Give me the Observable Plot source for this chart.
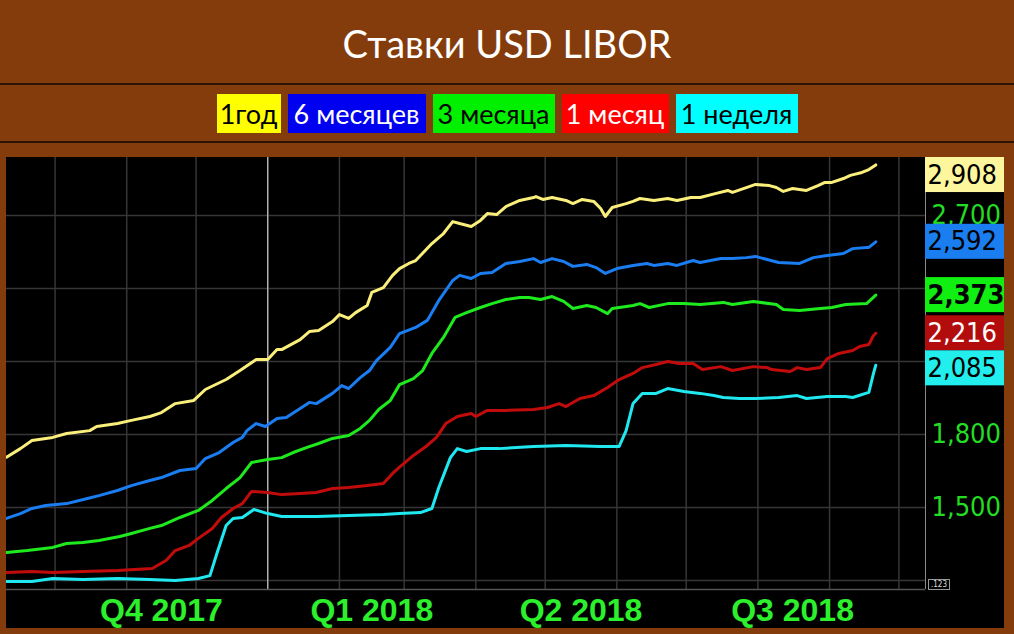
<!DOCTYPE html>
<html><head><meta charset="utf-8">
<script src="https://cdn.jsdelivr.net/npm/d3@7"></script>
<script src="https://cdn.jsdelivr.net/npm/@observablehq/plot@0.6"></script>
<style>
html,body{margin:0;padding:0;}
body{width:1014px;height:634px;background:#843c0c;position:relative;overflow:hidden;font-family:Lato,sans-serif;}
#title{position:absolute;left:0;top:0;width:1014px;height:84px;line-height:86px;text-align:center;color:#fff;font-size:38px;}
.sep{position:absolute;left:0;width:1014px;height:2px;background:#2a1406;}
#legend{position:absolute;top:94px;left:0;width:1014px;display:flex;justify-content:center;gap:7px;}
#legend span{display:block;height:39px;line-height:39px;font-size:27px;text-align:center;white-space:nowrap;overflow:hidden;}
#chart{position:absolute;left:6px;top:157px;width:998px;height:471px;background:#000;overflow:hidden;}
#chart svg{display:block;}
#badge123{position:absolute;left:928px;top:579px;width:20px;height:9px;border:1px solid #999;color:#ddd;font:8px "DejaVu Sans Condensed",sans-serif;line-height:9px;text-align:center;background:#000;}
</style></head>
<body>
<div id="title">Ставки USD LIBOR</div>
<div class="sep" style="top:83px"></div>
<div id="legend"></div>
<div class="sep" style="top:141px"></div>
<div id="chart"></div>
<div id="badge123">.123</div>
<script>
// ---- data ----
const legendLabels = ["1год", "6 месяцев", "3 месяца", "1 месяц", "1 неделя"];
const quarterLabels = ["Q4 2017", "Q1 2018", "Q2 2018", "Q3 2018"];
const quarterBounds = ["2017-10-01", "2018-01-01", "2018-04-01", "2018-07-01", "2018-10-01"];
const yGrid = [1.2, 1.5, 1.8, 2.1, 2.4, 2.7];
const yTickLabels = [1.5, 1.8, 2.1, 2.4, 2.7];

const rate1Y = [
["2017-09-10",1.707],["2017-09-16",1.742],["2017-09-21",1.775],["2017-09-30",1.788],["2017-10-06",1.804],
["2017-10-16",1.816],["2017-10-19",1.833],["2017-10-28",1.845],["2017-11-03",1.858],["2017-11-11",1.874],
["2017-11-16",1.890],["2017-11-22",1.927],["2017-11-30",1.940],["2017-12-05",1.985],["2017-12-14",2.026],
["2017-12-20",2.063],["2017-12-27",2.108],["2018-01-01",2.108],["2018-01-05",2.149],["2018-01-07",2.149],
["2018-01-15",2.190],["2018-01-19",2.223],["2018-01-23",2.227],["2018-01-29",2.264],["2018-02-01",2.293],
["2018-02-05",2.277],["2018-02-08",2.301],["2018-02-13",2.330],["2018-02-15",2.384],["2018-02-20",2.404],
["2018-02-24",2.454],["2018-02-27",2.482],["2018-03-03",2.503],["2018-03-06",2.515],["2018-03-13",2.585],
["2018-03-18",2.626],["2018-03-22",2.675],["2018-03-25",2.667],["2018-03-30",2.655],["2018-04-03",2.680],
["2018-04-06",2.708],["2018-04-10",2.704],["2018-04-14",2.737],["2018-04-20",2.762],["2018-04-26",2.774],
["2018-04-27",2.778],["2018-04-30",2.766],["2018-05-04",2.774],["2018-05-10",2.762],["2018-05-13",2.749],
["2018-05-17",2.766],["2018-05-22",2.758],["2018-05-25",2.729],["2018-05-27",2.696],["2018-05-30",2.733],
["2018-06-05",2.749],["2018-06-08",2.758],["2018-06-11",2.770],["2018-06-17",2.762],["2018-06-23",2.770],
["2018-06-27",2.762],["2018-07-03",2.774],["2018-07-07",2.774],["2018-07-14",2.791],["2018-07-19",2.803],
["2018-07-21",2.795],["2018-07-27",2.815],["2018-07-31",2.828],["2018-08-06",2.823],["2018-08-09",2.815],
["2018-08-12",2.799],["2018-08-16",2.811],["2018-08-22",2.803],["2018-08-27",2.823],["2018-08-30",2.836],
["2018-09-02",2.836],["2018-09-07",2.852],["2018-09-10",2.865],["2018-09-15",2.877],["2018-09-18",2.889],
["2018-09-21",2.908]];

const rate6M = [
["2017-09-10",1.455],["2017-09-16",1.475],["2017-09-21",1.496],["2017-09-27",1.508],["2017-10-06",1.516],
["2017-10-15",1.537],["2017-10-20",1.549],["2017-10-28",1.570],["2017-11-03",1.590],["2017-11-11",1.611],
["2017-11-16",1.623],["2017-11-24",1.652],["2017-12-01",1.660],["2017-12-05",1.701],["2017-12-11",1.726],
["2017-12-17",1.767],["2017-12-21",1.788],["2017-12-23",1.816],["2017-12-27",1.845],["2017-12-31",1.833],
["2018-01-05",1.866],["2018-01-09",1.870],["2018-01-15",1.907],["2018-01-19",1.932],["2018-01-22",1.927],
["2018-01-29",1.969],["2018-02-02",2.001],["2018-02-05",1.989],["2018-02-10",2.034],["2018-02-14",2.063],
["2018-02-17",2.104],["2018-02-23",2.158],["2018-02-27",2.215],["2018-03-06",2.240],["2018-03-11",2.269],
["2018-03-16",2.351],["2018-03-22",2.433],["2018-03-25",2.454],["2018-03-30",2.441],["2018-04-03",2.462],
["2018-04-08",2.466],["2018-04-14",2.503],["2018-04-20",2.511],["2018-04-26",2.523],["2018-04-29",2.507],
["2018-05-04",2.523],["2018-05-09",2.511],["2018-05-13",2.491],["2018-05-19",2.499],["2018-05-23",2.486],
["2018-05-27",2.462],["2018-06-01",2.482],["2018-06-08",2.495],["2018-06-14",2.503],["2018-06-17",2.495],
["2018-06-23",2.503],["2018-06-27",2.495],["2018-07-04",2.515],["2018-07-07",2.507],["2018-07-16",2.523],
["2018-07-21",2.523],["2018-07-27",2.527],["2018-07-31",2.532],["2018-08-05",2.519],["2018-08-10",2.507],
["2018-08-19",2.503],["2018-08-25",2.527],["2018-08-31",2.536],["2018-09-07",2.544],["2018-09-11",2.564],
["2018-09-17",2.569],["2018-09-18",2.569],["2018-09-21",2.592]];

const rate3M = [
["2017-09-10",1.315],["2017-09-19",1.323],["2017-09-30",1.336],["2017-10-06",1.352],["2017-10-13",1.356],
["2017-10-20",1.364],["2017-10-29",1.381],["2017-11-03",1.393],["2017-11-11",1.414],["2017-11-16",1.426],
["2017-11-24",1.459],["2017-12-02",1.488],["2017-12-08",1.529],["2017-12-14",1.578],["2017-12-20",1.623],
["2017-12-25",1.685],["2018-01-01",1.697],["2018-01-07",1.705],["2018-01-12",1.726],["2018-01-18",1.747],
["2018-01-23",1.763],["2018-01-29",1.784],["2018-02-05",1.796],["2018-02-10",1.825],["2018-02-14",1.858],
["2018-02-18",1.903],["2018-02-23",1.940],["2018-02-27",2.005],["2018-03-05",2.030],["2018-03-09",2.063],
["2018-03-13",2.133],["2018-03-18",2.199],["2018-03-23",2.281],["2018-03-28",2.301],["2018-04-03",2.322],
["2018-04-08",2.338],["2018-04-14",2.355],["2018-04-20",2.363],["2018-04-24",2.363],["2018-04-29",2.355],
["2018-05-04",2.367],["2018-05-09",2.347],["2018-05-13",2.318],["2018-05-19",2.330],["2018-05-23",2.322],
["2018-05-28",2.297],["2018-05-30",2.318],["2018-06-08",2.330],["2018-06-11",2.338],["2018-06-15",2.322],
["2018-06-23",2.338],["2018-06-30",2.338],["2018-07-07",2.334],["2018-07-17",2.343],["2018-07-21",2.334],
["2018-07-30",2.347],["2018-08-09",2.334],["2018-08-12",2.314],["2018-08-19",2.310],["2018-08-28",2.318],
["2018-09-02",2.322],["2018-09-08",2.334],["2018-09-17",2.338],["2018-09-21",2.373]];

const rate1M = [
["2017-09-10",1.233],["2017-09-21",1.237],["2017-09-30",1.233],["2017-10-13",1.237],["2017-10-28",1.241],
["2017-11-12",1.249],["2017-11-18",1.282],["2017-11-22",1.323],["2017-11-28",1.344],["2017-12-02",1.373],
["2017-12-08",1.414],["2017-12-12",1.459],["2017-12-17",1.496],["2017-12-21",1.516],["2017-12-25",1.566],
["2018-01-01",1.562],["2018-01-07",1.553],["2018-01-15",1.558],["2018-01-22",1.562],["2018-01-29",1.578],
["2018-02-05",1.582],["2018-02-13",1.590],["2018-02-20",1.599],["2018-02-24",1.640],["2018-02-27",1.666],
["2018-03-05",1.714],["2018-03-11",1.755],["2018-03-15",1.788],["2018-03-19",1.845],["2018-03-24",1.874],
["2018-03-30",1.886],["2018-04-01",1.874],["2018-04-06",1.899],["2018-04-14",1.899],["2018-04-26",1.903],
["2018-05-02",1.911],["2018-05-07",1.927],["2018-05-10",1.915],["2018-05-16",1.948],["2018-05-22",1.960],
["2018-05-28",1.993],["2018-06-02",2.026],["2018-06-08",2.051],["2018-06-12",2.075],["2018-06-18",2.088],
["2018-06-23",2.100],["2018-06-28",2.092],["2018-07-04",2.092],["2018-07-08",2.067],["2018-07-16",2.079],
["2018-07-21",2.063],["2018-07-30",2.079],["2018-08-05",2.075],["2018-08-07",2.067],["2018-08-15",2.059],
["2018-08-18",2.075],["2018-08-22",2.067],["2018-08-28",2.075],["2018-08-31",2.112],["2018-09-05",2.133],
["2018-09-11",2.145],["2018-09-14",2.162],["2018-09-18",2.170],["2018-09-20",2.207],["2018-09-21",2.216]];

const rate1W = [
["2017-09-10",1.196],["2017-09-21",1.196],["2017-09-30",1.208],["2017-10-13",1.204],["2017-10-28",1.208],
["2017-11-11",1.204],["2017-11-22",1.200],["2017-12-02",1.208],["2017-12-07",1.220],["2017-12-10",1.311],
["2017-12-14",1.426],["2017-12-17",1.455],["2017-12-21",1.459],["2017-12-26",1.492],["2018-01-01",1.475],
["2018-01-07",1.463],["2018-01-22",1.463],["2018-02-05",1.467],["2018-02-20",1.471],["2018-02-27",1.475],
["2018-03-08",1.479],["2018-03-13",1.496],["2018-03-16",1.582],["2018-03-21",1.705],["2018-03-24",1.742],
["2018-03-28",1.730],["2018-04-03",1.742],["2018-04-11",1.742],["2018-04-26",1.751],["2018-05-10",1.755],
["2018-05-25",1.751],["2018-06-02",1.751],["2018-06-05",1.816],["2018-06-08",1.927],["2018-06-12",1.969],
["2018-06-18",1.969],["2018-06-23",1.989],["2018-06-30",1.977],["2018-07-07",1.969],["2018-07-13",1.960],
["2018-07-17",1.952],["2018-07-24",1.948],["2018-07-31",1.948],["2018-08-10",1.952],["2018-08-18",1.960],
["2018-08-22",1.948],["2018-08-31",1.956],["2018-09-08",1.956],["2018-09-11",1.952],["2018-09-18",1.973],
["2018-09-20",2.051],["2018-09-21",2.085]];

// ---- styling ----
const legendBg = ["#ffff00", "#0000f0", "#00f000", "#ff0000", "#00ffff"];
const legendFg = ["#000", "#fff", "#000", "#fff", "#000"];
const legendW = [64, 138, 122, 107, 122];
const lineColors = ["#fbef7c", "#1a7ef2", "#1eea1e", "#c20c0c", "#20e8f0"];
const badgeBg = ["#fdf69c", "#1a7ef0", "#11ee11", "#b30c0c", "#22eeee"];
const badgeFg = ["#000", "#000", "#000", "#fff", "#000"];
const badgeBold = [false, false, true, false, false];
const allSeries = [rate1Y, rate6M, rate3M, rate1M, rate1W];

const lg = document.getElementById("legend");
legendLabels.forEach((t, i) => {
  const s = document.createElement("span");
  s.textContent = t;
  s.style.background = legendBg[i];
  s.style.color = legendFg[i];
  s.style.width = legendW[i] + "px";
  lg.appendChild(s);
});

const xDomain = [new Date("2017-09-10T00:00Z"), new Date("2018-10-12T12:00Z")];
const yDomain = [1.163, 2.9385];
const fmt = v => v.toFixed(3).replace(".", ",");
const rows = arr => arr.map(([d, v]) => ({date: new Date(d + "T00:00Z"), value: v}));
const monthTicks = d3.utcMonth.range(new Date("2017-10-01T00:00Z"), xDomain[1]);
const yearMark = new Date("2018-01-01T00:00Z");
const qb = quarterBounds.map(d => new Date(d + "T00:00Z"));
const quarters = quarterLabels.map((l, i) => ({label: l, date: new Date((+qb[i] + +qb[i + 1]) / 2)}));

// badges: last value of each series, nudged to avoid overlap
const h = 0.072;
const badges = allSeries.map((s, i) => ({value: s[s.length - 1][1], bg: badgeBg[i], fg: badgeFg[i], bold: badgeBold[i]}))
  .sort((a, b) => b.value - a.value);
let prev = yDomain[1] + h;
badges.forEach(b => { b.pos = Math.min(b.value, prev - 2 * h); prev = b.pos; });
// tick labels hidden behind a badge are not drawn (as in the reference)
const visibleTicks = yTickLabels.filter(t => !badges.some(b => Math.abs(t - b.pos) < h));
const xFar = d3.utcDay.offset(xDomain[1], 80);
const numFont = "'DejaVu Sans Condensed', 'DejaVu Sans', sans-serif";

const chart = Plot.plot({
  width: 998, height: 471,
  marginLeft: 0, marginRight: 79, marginTop: 0, marginBottom: 39,
  style: {background: "#000", overflow: "hidden"},
  x: {type: "utc", domain: xDomain, axis: null},
  y: {domain: yDomain, axis: null},
  color: {type: "identity"},
  marks: [
    Plot.ruleY(yGrid, {stroke: "#363636", strokeWidth: 1.5}),
    Plot.ruleX(monthTicks, {stroke: "#363636", strokeWidth: 1.5}),
    Plot.ruleX([yearMark], {stroke: "#c8c8c8", strokeWidth: 1.2}),
    Plot.ruleY([yDomain[0]], {stroke: "#555", strokeWidth: 1.5}),
    Plot.ruleX([xDomain[1]], {stroke: "#8a8a8a", strokeWidth: 1}),
    ...allSeries.map((s, i) => Plot.line(rows(s), {x: "date", y: "value", stroke: lineColors[i], strokeWidth: 3})),
    Plot.text(visibleTicks, {x: () => xDomain[1], y: d => d, text: fmt, dx: 6, textAnchor: "start",
      fill: "#22dd22", fontSize: 27, fontFamily: numFont}),
    Plot.rect(badges, {x1: () => xDomain[1], x2: () => xFar, y1: d => d.pos - h, y2: d => d.pos + h, fill: "bg"}),
    Plot.text(badges.filter(b => !b.bold), {x: () => xDomain[1], y: "pos", text: d => fmt(d.value), dx: 2,
      textAnchor: "start", fill: "fg", fontSize: 27, fontFamily: numFont}),
    Plot.text(badges.filter(b => b.bold), {x: () => xDomain[1], y: "pos", text: d => fmt(d.value), dx: 2,
      textAnchor: "start", fill: "fg", fontSize: 27, fontWeight: "bold", fontFamily: numFont}),
    Plot.text(quarters, {x: "date", text: "label", frameAnchor: "bottom", dy: 31, fill: "#2cf02c",
      fontSize: 32, fontWeight: "bold", fontFamily: "'Liberation Sans', Arial, sans-serif"})
  ]
});
document.getElementById("chart").appendChild(chart);
</script>
</body></html>
